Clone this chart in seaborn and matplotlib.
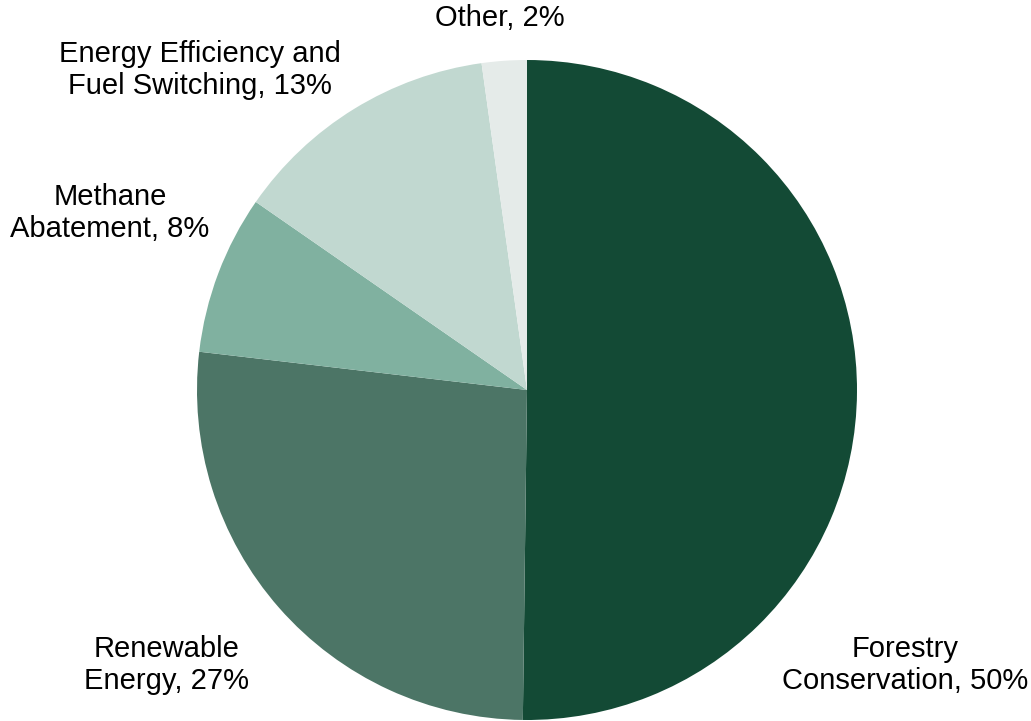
import matplotlib
matplotlib.use("Agg")
import matplotlib.pyplot as plt
import seaborn as sns

# data
categories = ["Forestry\nConservation", "Renewable\nEnergy", "Methane\nAbatement",
              "Energy Efficiency and\nFuel Switching", "Other"]
shares = [50.2, 26.65, 7.8, 13.15, 2.2]
pct_labels = ["50%", "27%", "8%", "13%", "2%"]
colors = ["#134a35", "#4c7566", "#80b1a0", "#c1d8d0", "#e5ebe9"]

sns.set_style("white")
plt.rcParams['font.family'] = ['Liberation Sans', 'DejaVu Sans']

fig = plt.figure(figsize=(10.31, 7.21), dpi=100)
ax = fig.add_axes([0, 0, 1, 1])

# pie drawn in pixel-like coordinates (y flipped, so counterclock=True looks clockwise)
cx, cy, r = 527, 390, 330
ax.pie(shares, colors=colors, startangle=-90, counterclock=True,
       center=(cx, cy), radius=r, frame=True,
       wedgeprops=dict(linewidth=0))
ax.set_xlim(0, 1031)
ax.set_ylim(721, 0)
ax.set_aspect("equal")
ax.axis("off")

# label positions (pixel centres)
label_pos = [(905, 665), (167, 665), (110, 213), (200, 70), (500, 18)]
for name, pct, (x, y) in zip(categories, pct_labels, label_pos):
    ax.text(x, y, f"{name}, {pct}", ha="center", va="center",
            fontsize=21, color="#000000", linespacing=1.2)

plt.savefig("out.png", dpi=100)
